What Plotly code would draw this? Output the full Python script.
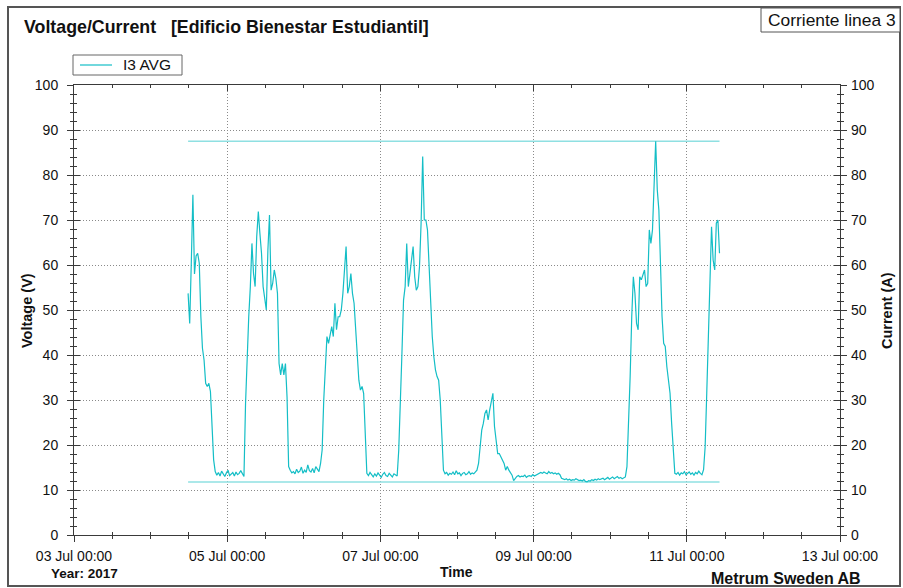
import pandas as pd
import plotly.graph_objects as go

# I3 AVG current readings, one value every 30 minutes starting 04 Jul 2017 11:45
start_time = "2017-07-04 11:45"
sample_step = "30min"
i3_avg = [
    53.7, 47.0, 60.4, 75.6, 58.0, 62.0, 62.6, 60.4, 48.5, 41.5, 38.9, 33.7, 33.0, 33.7, 31.9, 24.8, 16.7, 14.1,
    13.3, 13.9, 13.1, 14.2, 13.5, 13.0, 13.8, 14.4, 13.2, 13.6, 13.9, 13.1, 14.0, 13.4, 13.7, 14.3, 13.5,
    13.0,
    29.3, 41.1, 48.5, 55.2, 64.8, 58.1, 55.2, 66.3, 71.9, 67.0, 62.6, 55.2, 52.2, 50.0, 63.3, 71.1, 54.4, 55.9, 58.9, 57.0, 53.7,
    38.1, 35.6, 38.1, 35.6, 38.1, 30.7, 15.2,
    14.4, 13.8, 14.1, 13.6, 14.6, 13.9, 14.2, 15.1, 13.7, 14.4, 13.9, 15.6, 14.3, 14.0, 14.8, 13.8, 15.2, 14.5, 14.1,
    15.9, 18.9, 30.0, 36.7, 44.1, 42.6, 44.1, 46.3, 44.1, 51.5, 45.6, 48.5, 48.5, 50.0, 53.7, 58.1, 64.1, 53.7, 55.2, 58.1,
    53.7, 51.5, 45.6, 39.6, 34.4, 32.2, 33.0, 31.5, 22.6,
    13.7, 13.2, 13.9, 13.4, 12.9, 13.6, 13.1, 13.8, 13.3, 12.8, 13.5, 13.9, 13.2, 13.0, 13.7, 13.4, 12.9, 13.6, 13.3, 13.1,
    18.9, 32.2, 40.4, 52.2, 55.2, 64.8, 55.2, 58.1, 61.1, 64.1, 57.4, 54.4, 55.2, 59.6, 69.3, 84.1, 70.0, 70.0, 67.8, 59.6,
    51.5, 44.1, 39.6, 36.7, 35.2, 34.4, 30.0, 22.6, 14.4,
    13.6, 13.9, 13.3, 13.7, 13.5, 14.0, 13.4, 14.3, 13.6, 13.8, 13.2, 13.7, 13.9, 13.4, 13.6, 14.1, 13.5, 13.8, 13.6, 14.0,
    14.4, 15.9, 18.9, 23.3, 24.8, 27.0, 27.8, 25.6, 27.8, 29.3, 31.5, 24.1, 21.1, 18.1, 18.1, 17.4, 16.7, 15.9, 14.4, 15.2,
    14.4, 13.7, 13.3, 12.1, 12.6,
    13.0, 13.2, 12.9, 13.1, 13.0, 13.3, 12.8, 13.1, 13.2, 13.0, 13.4, 13.1, 13.3, 13.5,
    13.6, 13.9, 13.7, 14.0, 13.8, 13.6, 14.1, 13.7, 13.9, 13.6, 13.8, 13.5, 13.7, 13.4,
    12.6, 12.4, 12.3, 12.5, 12.2, 12.4, 12.1, 12.3, 12.2, 12.5, 12.3, 12.1,
    12.2, 12.0, 12.3, 11.9, 11.8, 12.1, 12.0, 12.3, 12.1, 12.4, 12.2, 12.5, 12.3,
    12.4, 12.6, 12.3, 12.5, 12.8, 12.4, 12.6, 12.9, 12.5, 12.7, 13.0, 12.6, 12.8, 12.5, 12.7, 12.9,
    15.2, 24.1, 35.2, 48.5, 57.4, 53.7, 47.0, 45.6, 57.4, 56.7, 58.1, 58.9, 55.2, 55.9, 67.8, 64.8, 67.8, 78.1, 87.5, 76.7,
    72.2, 60.4, 48.5, 42.6, 41.9, 37.4, 34.8, 31.5, 24.8, 18.9, 13.7,
    13.5, 13.9, 13.3, 13.8, 13.6, 14.1, 13.4, 13.7, 14.0, 13.5, 13.8, 13.3, 13.9, 13.6, 14.2, 13.7, 13.4, 14.5,
    19.6, 31.5, 45.6, 55.9, 68.5, 61.1, 58.9, 69.3, 70.0, 62.6,
]
series_name = "I3 AVG"

x_range = ["2017-07-03 00:00", "2017-07-13 00:00"]
y_range = [0, 100]

FONT = "Liberation Sans, Arial, sans-serif"
LINE_COLOR = "#14BEC6"
LIMIT_COLOR = "#8FE0E2"
AXIS_COLOR = "#3a3a3a"
TEXT_COLOR = "#111"

# plot area in pixels (figure is 903 x 588)
PL, PR, PT, PB = 74, 840, 85, 535


def px_x(px):
    return (px - PL) / (PR - PL)


def px_y(py):
    return (PB - py) / (PB - PT)


times = pd.date_range(start_time, periods=len(i3_avg), freq=sample_step)
span = [times[0], times[-1]]

fig = go.Figure()

# maximum / minimum markers over the recorded period
for level in (max(i3_avg), min(i3_avg)):
    fig.add_trace(go.Scatter(x=span, y=[level] * 2, mode="lines",
                             line=dict(color=LIMIT_COLOR, width=1.5),
                             showlegend=False, hoverinfo="skip"))

fig.add_trace(go.Scatter(x=times, y=i3_avg, mode="lines", name=series_name,
                         line=dict(color=LINE_COLOR, width=1.2), showlegend=False))

# empty helpers so the overlay axes (inner ticks, right labels) get drawn
fig.add_trace(go.Scatter(x=[], y=[], xaxis="x2", yaxis="y3", showlegend=False))
fig.add_trace(go.Scatter(x=[], y=[], xaxis="x", yaxis="y2", showlegend=False))

DAY_MS = 86400000
tick_font = dict(family=FONT, size=14, color=TEXT_COLOR)

common_x = dict(type="date", range=x_range, tick0=x_range[0], dtick=2 * DAY_MS)
common_y = dict(range=y_range, dtick=10, tick0=0)

fig.update_layout(
    width=903, height=588,
    margin=dict(l=PL, r=903 - PR, t=PT, b=588 - PB),
    paper_bgcolor="white", plot_bgcolor="white",
    font=dict(family=FONT, color=TEXT_COLOR),
    showlegend=False,
    xaxis=dict(**common_x, tickformat="%d %b %H:%M", tickfont=tick_font,
               ticks="outside", ticklen=6, tickcolor=AXIS_COLOR,
               showline=True, linecolor=AXIS_COLOR, linewidth=1, mirror=True,
               showgrid=True, gridcolor="#8a8a8a", griddash="1px,2px", gridwidth=1,
               zeroline=False, ticklabelstandoff=2,
               minor=dict(dtick=DAY_MS / 2, ticks="outside", ticklen=3,
                          tickcolor=AXIS_COLOR, showgrid=False)),
    xaxis2=dict(**common_x, overlaying="x", anchor="y", side="bottom",
                showticklabels=False, ticks="inside", ticklen=6, tickcolor=AXIS_COLOR,
                showline=True, linecolor=AXIS_COLOR, mirror="allticks",
                showgrid=False, zeroline=False,
                minor=dict(dtick=DAY_MS / 2, ticks="inside", ticklen=3,
                           tickcolor=AXIS_COLOR, showgrid=False)),
    yaxis=dict(**common_y, tickfont=tick_font,
               ticks="outside", ticklen=6, tickcolor=AXIS_COLOR,
               showline=True, linecolor=AXIS_COLOR, mirror="allticks",
               showgrid=True, gridcolor="#8a8a8a", griddash="1px,2px", gridwidth=1,
               zeroline=False, ticklabelstandoff=6,
               minor=dict(dtick=2, ticks="outside", ticklen=3,
                          tickcolor=AXIS_COLOR, showgrid=False)),
    yaxis3=dict(**common_y, overlaying="y", anchor="x", side="left",
                showticklabels=False, ticks="inside", ticklen=6, tickcolor=AXIS_COLOR,
                showline=True, linecolor=AXIS_COLOR, mirror="allticks",
                showgrid=False, zeroline=False,
                minor=dict(dtick=2, ticks="inside", ticklen=3,
                           tickcolor=AXIS_COLOR, showgrid=False)),
    yaxis2=dict(**common_y, overlaying="y", anchor="x", side="right",
                tickfont=tick_font, ticks="", showline=False, showgrid=False,
                zeroline=False, ticklabelstandoff=10),
)

# window frame and caption box
fig.add_shape(type="rect", xref="paper", yref="paper",
              x0=px_x(8), x1=px_x(900), y0=px_y(586), y1=px_y(7),
              line=dict(color="#555", width=2), layer="below")
fig.add_shape(type="rect", xref="paper", yref="paper",
              x0=px_x(761), x1=px_x(900), y0=px_y(32), y1=px_y(8),
              line=dict(color="#555", width=1), fillcolor="white", layer="below")

# legend box with a line sample for the series
fig.add_shape(type="rect", xref="paper", yref="paper",
              x0=px_x(73), x1=px_x(182), y0=px_y(75), y1=px_y(55),
              line=dict(color="#666", width=1), fillcolor="white")
fig.add_shape(type="line", xref="paper", yref="paper",
              x0=px_x(80), x1=px_x(112), y0=px_y(65), y1=px_y(65),
              line=dict(color=LINE_COLOR, width=1.2))

texts = [
    ("<b>Voltage/Current\u00a0\u00a0\u00a0[Edificio Bienestar Estudiantil]</b>", 22, 27, 17.8, "left", 0),
    ("Corriente linea 3", 766, 20, 17.4, "left", 0),
    (series_name, 121, 65, 15.5, "left", 0),
    ("<b>Year: 2017</b>", 49, 573, 13.5, "left", 0),
    ("<b>Time</b>", 456, 572, 14, "center", 0),
    ("<b>Metrum Sweden AB</b>", 709, 578, 16, "left", 0),
    ("<b>Voltage (V)</b>", 27, 311, 14.5, "center", -90),
    ("<b>Current (A)</b>", 887, 311, 14.5, "center", -90),
]
for text, tx, ty, size, anchor, angle in texts:
    fig.add_annotation(text=text, xref="paper", yref="paper", x=px_x(tx), y=px_y(ty),
                       xanchor=anchor, yanchor="middle", showarrow=False, textangle=angle,
                       font=dict(family=FONT, size=size, color=TEXT_COLOR))

fig.write_html("out.html")
